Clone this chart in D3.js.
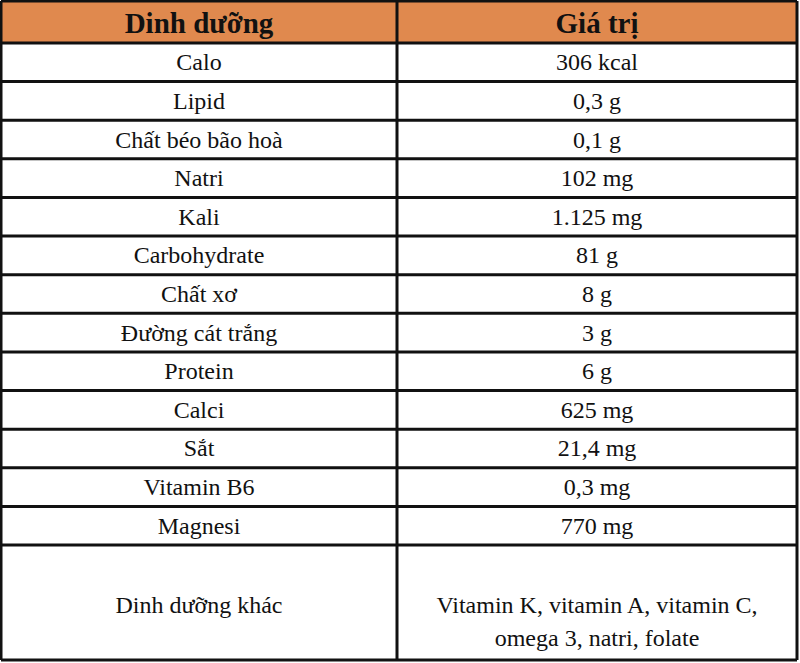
<!DOCTYPE html><html><head><meta charset="utf-8"><script src="https://cdn.jsdelivr.net/npm/d3@7"></script>
<style>body{margin:0;background:#fff}</style></head><body><svg id="c" width="800" height="663"></svg>
<script>
const headers=["Dinh dưỡng","Giá trị"];
const nutrients=["Calo","Lipid","Chất béo bão hoà","Natri","Kali","Carbohydrate","Chất xơ","Đường cát trắng","Protein","Calci","Sắt","Vitamin B6","Magnesi","Dinh dưỡng khác"];
const values=[["306 kcal"],["0,3 g"],["0,1 g"],["102 mg"],["1.125 mg"],["81 g"],["8 g"],["3 g"],["6 g"],["625 mg"],["21,4 mg"],["0,3 mg"],["770 mg"],["Vitamin K, vitamin A, vitamin C,","omega 3, natri, folate"]];
const svg=d3.select("#c");
const x0=1,x1=397,x2=797,yTop=1,hb=43,rowEnd=545,yBottom=660;
const y=d3.scaleBand().domain(nutrients.slice(0,13)).range([hb,rowEnd]);
const font="Liberation Serif, Times New Roman, serif";
svg.append("rect").attr("x",x0).attr("y",yTop).attr("width",x2-x0).attr("height",hb-yTop).attr("fill","#e0894e");
svg.selectAll(".h").data(headers).join("text").attr("x",(d,i)=>i?(x1+x2)/2:(x0+x1)/2).attr("y",33)
 .attr("text-anchor","middle").attr("font-family",font).attr("font-weight","bold").attr("font-size",29).attr("fill","#111").text(d=>d);
const rowY=(d,i)=>i<13?y(d):rowEnd, rowH=(d,i)=>i<13?y.bandwidth():yBottom-rowEnd;
const g=svg.selectAll(".r").data(nutrients).join("g");
g.append("text").attr("x",(x0+x1)/2).attr("y",(d,i)=>i<13?rowY(d,i)+rowH(d,i)/2+8:613)
 .attr("text-anchor","middle").attr("font-family",font).attr("font-size",24).attr("fill","#111").text(d=>d);
g.each(function(d,i){
 const v=values[i];
 d3.select(this).selectAll("text.v").data(v).join("text").attr("class","v").attr("x",(x1+x2)/2)
  .attr("y",(t,j)=>i<13?rowY(d,i)+rowH(d,i)/2+8:613+j*33)
  .attr("text-anchor","middle").attr("font-family",font).attr("font-size",24).attr("fill","#111").text(t=>t);
});
const lines=[yTop,hb,...nutrients.slice(1,13).map(d=>y(d)),rowEnd,yBottom];
svg.selectAll(".hl").data(lines).join("line").attr("x1",x0).attr("x2",x2).attr("y1",d=>d).attr("y2",d=>d).attr("stroke","#111").attr("stroke-width",3);
svg.selectAll(".vl").data([x0,x1,x2]).join("line").attr("x1",d=>d).attr("x2",d=>d).attr("y1",yTop).attr("y2",yBottom).attr("stroke","#111").attr("stroke-width",3);
</script></body></html>
